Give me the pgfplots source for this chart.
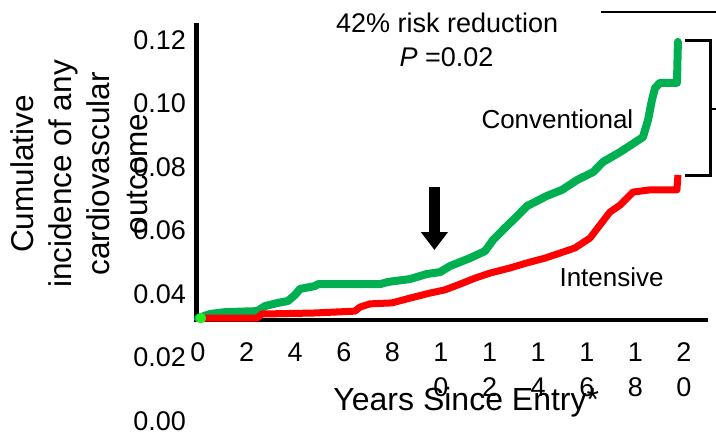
\documentclass[border=0pt]{standalone}
\usepackage{pgfplots}
\pgfplotsset{compat=1.18}
\usepackage{fontspec}
\setmainfont{Liberation Sans}
\usetikzlibrary{arrows.meta}
\definecolor{convgreen}{HTML}{00B050}
\definecolor{intred}{HTML}{FF0000}
\definecolor{startgreen}{HTML}{22EE22}
\begin{document}
\begin{tikzpicture}
\begin{axis}[
  x=24.3pt, y=3175pt,
  xmin=-0.06, xmax=21, ymin=0, ymax=0.1254,
  axis line style={draw=none},
  major tick length=0pt,
  xtick={0,2,4,6,8,10,12,14,16,18,20},
  xticklabels={0,2,4,6,8,{1\\0},{1\\2},{1\\4},{1\\6},{1\\8},{2\\0}},
  xticklabel style={align=center, font=\fontsize{27}{35}\selectfont, yshift=82pt},
  ytick={0,0.02,0.04,0.06,0.08,0.10,0.12},
  yticklabels={0.00,0.02,0.04,0.06,0.08,0.10,0.12},
  yticklabel style={font=\fontsize{27}{32}\selectfont, xshift=-7pt},
  clip=false,
]
% axis lines
\draw[line width=4.5pt] (axis cs:-0.06,0.12535) -- (axis cs:-0.06,0.0318) -- (axis cs:20.99,0.0318);
% conventional (green)
\addplot[color=convgreen, line width=8pt, line join=round, line cap=round] coordinates {
(0,0.0324) (0.49,0.0337) (1.11,0.0343) (2.43,0.0346) (2.76,0.0362) (3.29,0.0372)
(3.70,0.0378) (3.99,0.0397) (4.20,0.0416) (4.81,0.0425) (4.94,0.0431) (7.49,0.0431)
(7.82,0.0438) (8.72,0.0447) (9.42,0.0463) (9.96,0.0469) (10.37,0.0488) (11.19,0.0513)
(11.81,0.0535) (12.14,0.0570) (12.63,0.0608) (13.05,0.0639) (13.54,0.0677) (14.36,0.0709)
(14.98,0.0728) (15.60,0.0759) (16.26,0.0784) (16.67,0.0816) (17.37,0.0847) (18.31,0.0894)
(18.52,0.0948) (18.68,0.1011) (18.81,0.1049) (19.01,0.1065) (19.71,0.1065) (19.75,0.1194)
};
% intensive (red)
\addplot[color=intred, line width=7pt, line join=round] coordinates {
(0,0.0324) (2.43,0.0324) (2.63,0.0337) (4.73,0.0340) (6.46,0.0346) (6.67,0.0359)
(7.08,0.0369) (7.98,0.0372) (8.72,0.0387) (9.55,0.0403) (10.16,0.0413) (10.78,0.0431)
(11.40,0.0450) (12.02,0.0466) (12.84,0.0482) (13.54,0.0498) (14.28,0.0513) (14.90,0.0529)
(15.51,0.0545) (16.13,0.0576) (16.54,0.0617) (16.95,0.0658) (17.37,0.0680) (17.90,0.0721)
(18.60,0.0728) (19.71,0.0728) (19.75,0.0775)
};
% start dot
\addplot[only marks, mark=*, mark size=5pt, color=startgreen] coordinates {(0.12,0.0324)};
% annotations
\node[anchor=base, font=\fontsize{27}{32}\selectfont] at (axis cs:10.25,0.12252) {42\% risk reduction};
\node[anchor=base, font=\fontsize{27}{32}\selectfont] at (axis cs:10.23,0.11181) {\textit{P} =0.02};
\node[anchor=base, font=\fontsize{26}{32}\selectfont] at (axis cs:14.79,0.09228) {Conventional};
\node[anchor=base, font=\fontsize{26}{32}\selectfont] at (axis cs:17.02,0.04252) {Intensive};
% arrow
\draw[line width=11pt, -{Triangle[length=18pt, width=26pt]}] (axis cs:9.73,0.0737) -- (axis cs:9.73,0.05386);
% bracket
\draw[line width=3pt] (axis cs:20.04,0.11969) -- (axis cs:21.07,0.11969) -- (axis cs:21.07,0.07748) -- (axis cs:20.04,0.07748);
\draw[line width=2pt] (axis cs:21.07,0.09827) -- (axis cs:21.4,0.09827);
\draw[line width=1.5pt] (axis cs:16.58,0.12882) -- (axis cs:21.4,0.12882);
% labels
\node[rotate=90, align=center, font=\fontsize{31.5}{38}\selectfont] at (axis cs:-4.90,0.0778) {Cumulative\\incidence of any\\cardiovascular\\outcome};
\node[anchor=base west, font=\fontsize{32}{38}\selectfont] at (axis cs:5.43,0.003465) {Years Since Entry*};
\coordinate (bbA) at (axis cs:-8.148,-0.00378);
\coordinate (bbB) at (axis cs:21.317,0.13260);
\end{axis}
\pgfresetboundingbox
\useasboundingbox (bbA) rectangle (bbB);
\end{tikzpicture}
\end{document}
